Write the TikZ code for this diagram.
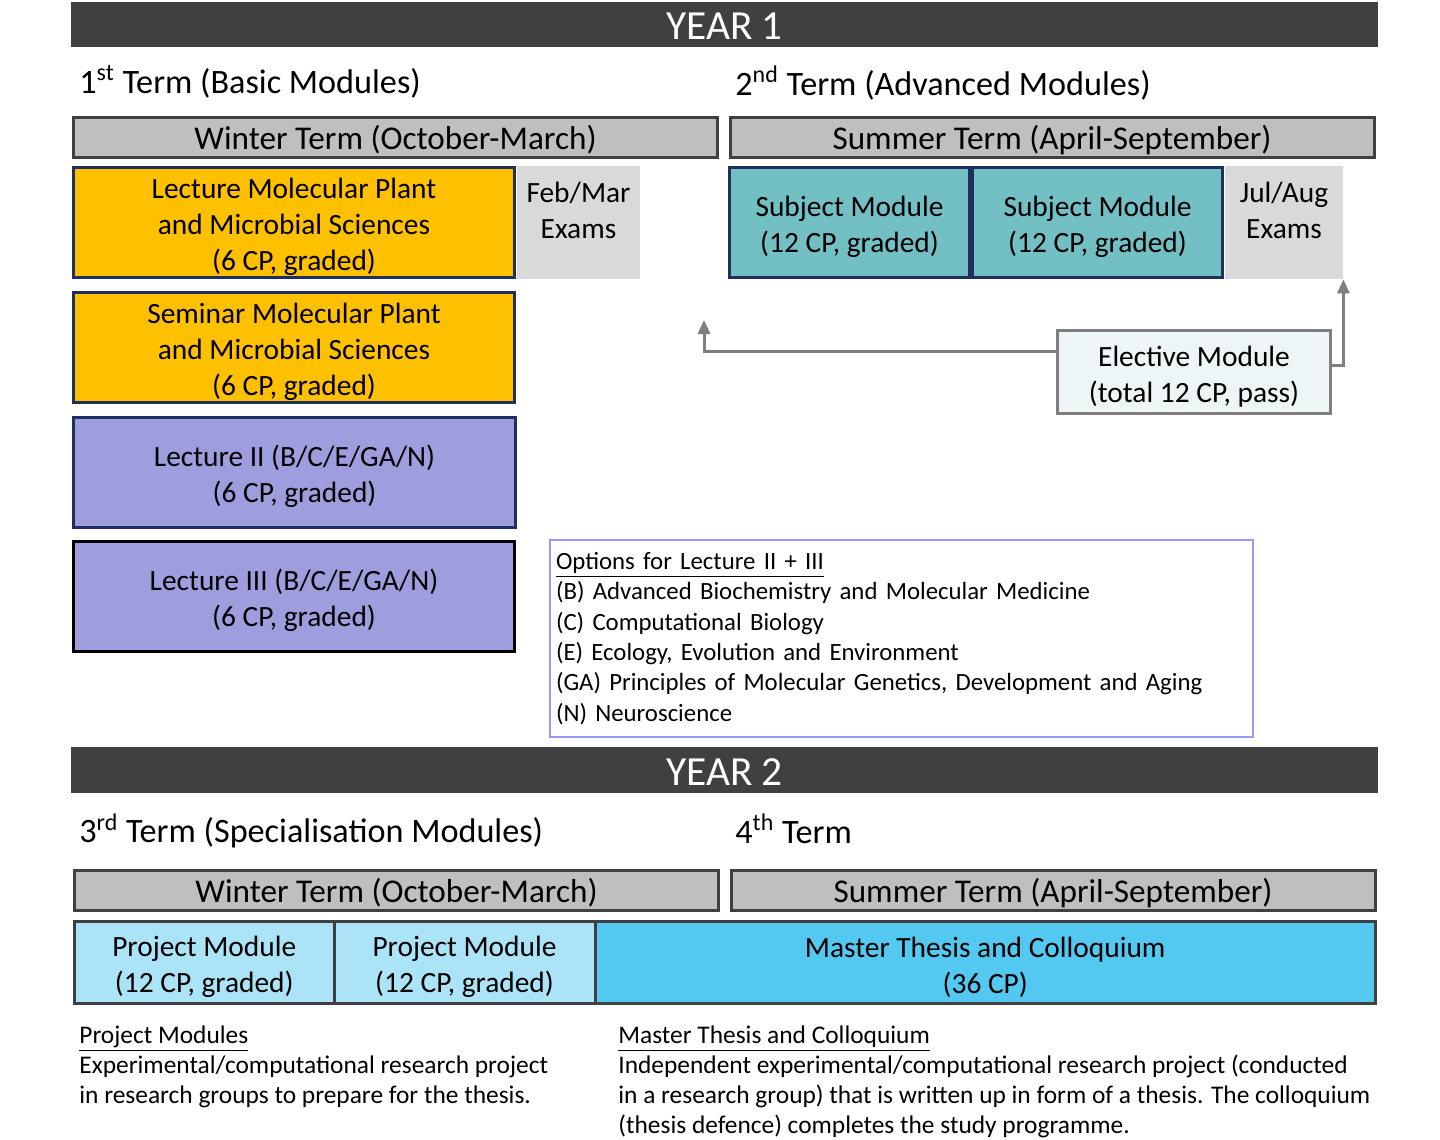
\documentclass[tikz,border=0pt]{standalone}
\usepackage{fontspec}
\setmainfont{Carlito}
\usetikzlibrary{arrows.meta}
\definecolor{bar}{HTML}{404040}
\definecolor{hdr}{HTML}{BFBFBF}
\definecolor{orng}{HTML}{FFC000}
\definecolor{lav}{HTML}{9E9EDE}
\definecolor{navy}{HTML}{1F2F5F}
\definecolor{tealc}{HTML}{72BFC4}
\definecolor{examc}{HTML}{D9D9D9}
\definecolor{elecf}{HTML}{EDF5F7}
\definecolor{elecb}{HTML}{7F7F7F}
\definecolor{optb}{HTML}{9999EE}
\definecolor{projl}{HTML}{ABE3F7}
\definecolor{thesisc}{HTML}{53C8F0}
\newcommand\toppad{\rule{0pt}{14.8pt}}
\tikzset{
  yearbar/.style={fill=bar, text=white, font=\fontsize{20.7}{24}\selectfont, inner sep=0,
    minimum width=653.5pt, execute at begin node={\rule{0pt}{15.2pt}}},
  termhdr/.style={fill=hdr, draw=bar, line width=1.5pt, font=\fontsize{16.6}{20}\selectfont,
    inner sep=0, minimum width=322pt, minimum height=20pt,
    execute at begin node={\rule{0pt}{14.6pt}}},
  termtitle/.style={anchor=west, inner sep=0, font=\fontsize{17.1}{20}\selectfont},
  modbox/.style={draw=navy, line width=1.5pt, font=\fontsize{14.7}{18}\selectfont, align=center,
    inner sep=0, minimum height=55pt},
  examfill/.style={fill=examc, inner sep=0, minimum height=56.5pt},
  examtext/.style={font=\fontsize{14.7}{18}\selectfont, align=center, inner sep=0},
  projbox/.style={draw=bar, line width=1.5pt, font=\fontsize{14.7}{18}\selectfont, align=center,
    inner sep=0, minimum height=41pt},
  gray arrow/.style={draw=elecb, line width=1.5pt, -{Triangle[width=6pt,length=7pt]}},
  desc/.style={anchor=north west, inner sep=0, align=left, font=\fontsize{12.7}{15}\selectfont},
}
\begin{document}
\begin{tikzpicture}[x=0.5pt,y=-0.5pt]
\useasboundingbox (0,0) rectangle (1440,1140);
% YEAR 1
\node[yearbar, minimum height=22.5pt] (y1) at (724.5,24.5) {YEAR 1};
\node[termtitle] (t1) at (79,82) {1\textsuperscript{st} Term (Basic Modules)};
\node[termtitle] (t2) at (735,83) {2\textsuperscript{nd} Term (Advanced Modules)};
\node[termhdr] (w1) at (395.5,137.5) {Winter Term (October-March)};
\node[termhdr] (s1) at (1052,137.5) {Summer Term (April-September)};
% first term modules
\node[modbox, fill=orng, minimum width=220.5pt] (lm) at (294,222.5)
  {\toppad Lecture Molecular Plant\\and Microbial Sciences\\(6 CP, graded)};
\node[examfill, minimum width=61.5pt] (ex1) at (578.5,222.5) {};
\node[examtext] (ex1t) at (578.5,210) {Feb/Mar\\Exams};
\node[modbox, fill=orng, minimum width=220.5pt] (sm) at (294,347.5)
  {\toppad Seminar Molecular Plant\\and Microbial Sciences\\(6 CP, graded)};
\node[modbox, fill=lav, minimum width=221pt] (l2) at (294.5,472.5)
  {\toppad Lecture II (B/C/E/GA/N)\\(6 CP, graded)};
\node[modbox, fill=lav, draw=black, minimum width=220.5pt] (l3) at (294,596.5)
  {\toppad Lecture III (B/C/E/GA/N)\\(6 CP, graded)};
% second term modules
\node[modbox, fill=tealc, minimum width=120pt] (sub1) at (849.5,222.5)
  {\toppad Subject Module\\(12 CP, graded)};
\node[modbox, fill=tealc, minimum width=125pt] (sub2) at (1097.5,222.5)
  {\toppad Subject Module\\(12 CP, graded)};
\node[examfill, minimum width=59pt] (ex2) at (1284,222.5) {};
\node[examtext] (ex2t) at (1284,210) {Jul/Aug\\Exams};
\node[modbox, fill=elecf, draw=elecb, minimum width=136.5pt, minimum height=41.5pt] (el) at (1194,372)
  {\toppad Elective Module\\(total 12 CP, pass)};
\coordinate (elup) at (704,320);
\draw[gray arrow] (el.west |- 0,351) -- (elup |- 0,351) -- (elup);
\draw[gray arrow] (el.east |- 0,365) -- (ex2.south east |- 0,365) -- (ex2.south east);
% options
\node[draw=optb, line width=0.75pt, minimum width=351.5pt, minimum height=98.5pt,
  text width=345.5pt, inner xsep=3pt, inner ysep=0, align=left,
  font=\fontsize{12.4}{15.2}\selectfont] (opt) at (901.5,638.5)
  {\underline{Options for Lecture II + III}\\
   (B) Advanced Biochemistry and Molecular Medicine\\
   (C) Computational Biology\\
   (E) Ecology, Evolution and Environment\\
   (GA) Principles of Molecular Genetics, Development and Aging\\
   (N) Neuroscience};
% YEAR 2
\node[yearbar, minimum height=23pt] (y2) at (724.5,770) {YEAR 2};
\node[termtitle] (t3) at (79,831) {3\textsuperscript{rd} Term (Specialisation Modules)};
\node[termtitle] (t4) at (735,829) {4\textsuperscript{th} Term};
\node[termhdr] (w2) at (396.5,890.5) {Winter Term (October-March)};
\node[termhdr] (s2) at (1053,890.5) {Summer Term (April-September)};
\node[projbox, fill=projl, minimum width=129.75pt] (p1) at (204.25,962.5)
  {\toppad Project Module\\(12 CP, graded)};
\node[projbox, fill=projl, minimum width=130.5pt] (p2) at (464.5,962.5)
  {\toppad Project Module\\(12 CP, graded)};
\node[projbox, fill=thesisc, minimum width=390.25pt] (th) at (985.25,962.5)
  {\toppad Master Thesis and Colloquium\\(36 CP)};
\node[desc] (pd) at (79,1025)
  {\underline{Project Modules}\\
   Experimental/computational research project\\
   in research groups to prepare for the thesis.};
\node[desc] (td) at (618,1025)
  {\underline{Master Thesis and Colloquium}\\
   Independent experimental/computational research project (conducted\\
   in a research group) that is written up in form of a thesis. The colloquium\\
   (thesis defence) completes the study programme.};
\end{tikzpicture}
\end{document}
